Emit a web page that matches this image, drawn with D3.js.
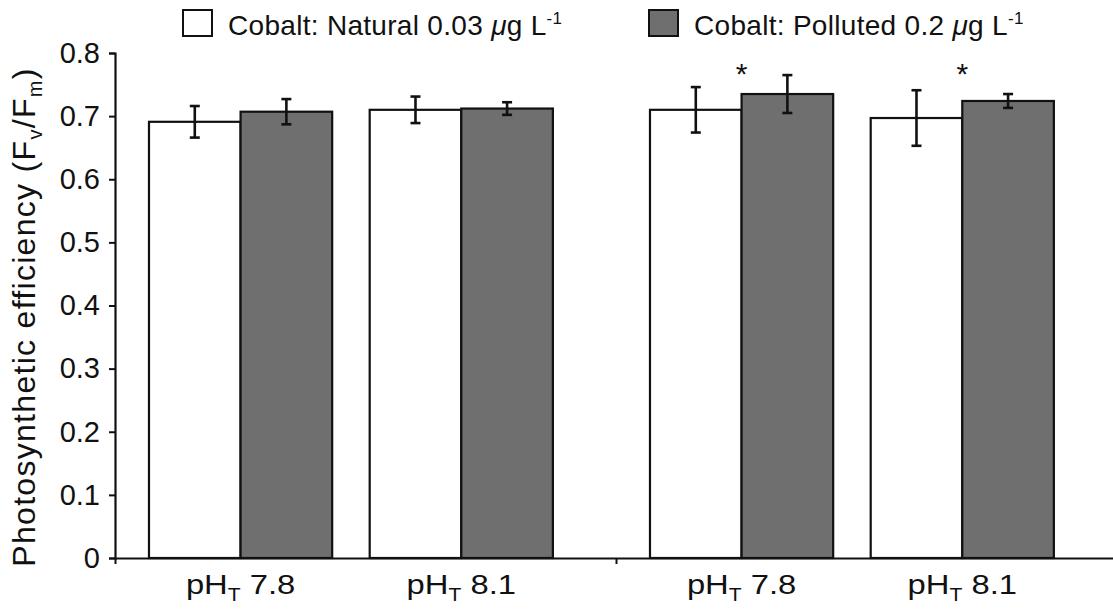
<!DOCTYPE html>
<html>
<head>
<meta charset="utf-8">
<script src="https://cdn.jsdelivr.net/npm/d3@7"></script>
<style>
  body { margin: 0; background: #fff; }
  text { font-family: "Liberation Sans", Arial, sans-serif; fill: #111; }
</style>
</head>
<body>
<div id="chart"></div>
<script>
// data
var groups = ["g1", "g2"];
var phLevels = ["7.8", "8.1"];
var series = ["natural", "polluted"];
var seriesLabels = ["Cobalt: Natural 0.03 ", "Cobalt: Polluted 0.2 "];
var naturalMean = [0.691, 0.710, 0.710, 0.697];
var naturalErr = [0.025, 0.021, 0.036, 0.044];
var pollutedMean = [0.707, 0.712, 0.735, 0.724];
var pollutedErr = [0.020, 0.010, 0.030, 0.011];
var significant = [false, false, true, true];
var yTicks = [0, 0.1, 0.2, 0.3, 0.4, 0.5, 0.6, 0.7, 0.8];

var svgWidth = 1113;
var svgHeight = 611;

var svg = d3.select("#chart")
  .append("svg")
  .attr("width", svgWidth)
  .attr("height", svgHeight);

// build rows
var rows = [];
groups.forEach(function(g, gi) {
  phLevels.forEach(function(p, pi) {
    var i = gi * phLevels.length + pi;
    rows.push({
      group: g, ph: p, idx: i,
      values: [
        {key: "natural", mean: naturalMean[i], err: naturalErr[i]},
        {key: "polluted", mean: pollutedMean[i], err: pollutedErr[i]}
      ],
      sig: significant[i]
    });
  });
});

// scales
var x0 = d3.scaleBand().domain(groups).range([115, 1117]);
var x1 = d3.scaleBand().domain(phLevels)
  .range([0, x0.bandwidth()])
  .paddingInner(0.17)
  .paddingOuter(0.22)
  .align(0.35);
var x2 = d3.scaleBand().domain(series).range([0, x1.bandwidth()]);

var y = d3.scaleLinear().domain([0, 0.8]).range([558, 53]);

var fill = d3.scaleOrdinal().domain(series).range(["#ffffff", "#6f6f6f"]);

// bars
var cat = svg.selectAll(".cat")
  .data(rows)
  .enter()
  .append("g")
  .attr("class", "cat")
  .attr("transform", d => `translate(${x0(d.group) + x1(d.ph)}, 0)`);

cat.selectAll("rect")
  .data(d => d.values)
  .enter()
  .append("rect")
  .attr("x", d => x2(d.key))
  .attr("y", d => y(d.mean))
  .attr("width", x2.bandwidth())
  .attr("height", d => y(0) - y(d.mean))
  .attr("fill", d => fill(d.key))
  .attr("stroke", "#111")
  .attr("stroke-width", 2.2);

// error bars
var eb = cat.selectAll(".err")
  .data(d => d.values)
  .enter()
  .append("g")
  .attr("class", "err")
  .attr("stroke", "#111")
  .attr("stroke-width", 2.6);

eb.append("line")
  .attr("x1", d => x2(d.key) + x2.bandwidth() / 2)
  .attr("x2", d => x2(d.key) + x2.bandwidth() / 2)
  .attr("y1", d => y(d.mean + d.err))
  .attr("y2", d => y(d.mean - d.err));
eb.append("line")
  .attr("x1", d => x2(d.key) + x2.bandwidth() / 2 - 5)
  .attr("x2", d => x2(d.key) + x2.bandwidth() / 2 + 5)
  .attr("y1", d => y(d.mean + d.err))
  .attr("y2", d => y(d.mean + d.err));
eb.append("line")
  .attr("x1", d => x2(d.key) + x2.bandwidth() / 2 - 5)
  .attr("x2", d => x2(d.key) + x2.bandwidth() / 2 + 5)
  .attr("y1", d => y(d.mean - d.err))
  .attr("y2", d => y(d.mean - d.err));

// significance stars
cat.filter(d => d.sig)
  .append("text")
  .attr("x", x1.bandwidth() / 2)
  .attr("y", y(0.8) + 31)
  .attr("text-anchor", "middle")
  .attr("font-size", "30px")
  .text("*");

// y axis
var leftAxis = d3.axisLeft(y)
  .tickValues(yTicks)
  .tickFormat(d => d === 0 ? "0" : d3.format(".1f")(d))
  .tickSize(6)
  .tickPadding(9);

var yg = svg.append("g")
  .attr("transform", "translate(115,0)")
  .call(leftAxis);
yg.select(".domain").attr("stroke", "#111").attr("stroke-width", 2.2);
yg.selectAll(".tick line").attr("stroke", "#111").attr("stroke-width", 2);
yg.selectAll(".tick text")
  .attr("font-family", "Liberation Sans, Arial, sans-serif")
  .attr("font-size", "29px")
  .attr("fill", "#222");

// x axis: line with ticks at group boundaries
var xb = d3.scaleLinear().domain([0, groups.length]).range(x0.range());
var bottomAxis = d3.axisBottom(xb)
  .tickValues(d3.range(groups.length + 1))
  .tickFormat("")
  .tickSize(6)
  .tickSizeOuter(0);
var xg = svg.append("g")
  .attr("transform", `translate(0, ${y(0)})`)
  .call(bottomAxis);
xg.select(".domain").attr("stroke", "#111").attr("stroke-width", 2.2);
xg.selectAll(".tick line").attr("stroke", "#111").attr("stroke-width", 2);

// category labels (glyphs look a bit wide in the original)
var lab = cat.append("g")
  .attr("transform", `translate(${x1.bandwidth() / 2}, 594) scale(1.17, 1)`)
  .append("text")
  .attr("text-anchor", "middle")
  .attr("font-size", "28px")
  .attr("fill", "#222");
lab.append("tspan").text("pH");
lab.append("tspan").attr("dy", 7).attr("font-size", "18px").text("T");
lab.append("tspan").attr("dy", -7).text(d => " " + d.ph);

// y axis title
var yt = svg.append("text")
  .attr("transform", "translate(35, 317) rotate(-90)")
  .attr("text-anchor", "middle")
  .attr("font-size", "32px")
  .attr("letter-spacing", "1.3px")
  .attr("fill", "#222");
yt.append("tspan").text("Photosynthetic efficiency (F");
yt.append("tspan").attr("dy", 7).attr("font-size", "20px").text("v");
yt.append("tspan").attr("dy", -7).text("/F");
yt.append("tspan").attr("dy", 7).attr("font-size", "20px").text("m");
yt.append("tspan").attr("dy", -7).text(")");

// legend
var legendX = [183, 649];
var legend = svg.selectAll(".legend")
  .data(series)
  .enter()
  .append("g")
  .attr("class", "legend")
  .attr("transform", (d, i) => `translate(${legendX[i]}, 10)`);

legend.append("rect")
  .attr("width", 29)
  .attr("height", 26)
  .attr("fill", d => fill(d))
  .attr("stroke", "#111")
  .attr("stroke-width", 2);

var lt = legend.append("text")
  .attr("x", 45)
  .attr("y", 25)
  .attr("font-size", "28px")
  .attr("letter-spacing", "0.3px")
  .attr("fill", "#222");
lt.append("tspan").text((d, i) => seriesLabels[i]);
lt.append("tspan").attr("font-style", "italic").text("\u03bc");
lt.append("tspan").text("g L");
lt.append("tspan").attr("dy", -11).attr("font-size", "17px").text("-1");
</script>
</body>
</html>
